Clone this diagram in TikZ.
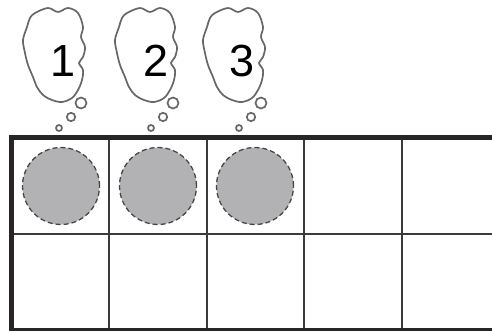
\documentclass[tikz,border=0pt]{standalone}
\usepackage{fontspec}
\setmainfont{Liberation Sans}
\usepackage{tikz}
\usetikzlibrary{positioning}
\definecolor{ink}{RGB}{40,36,40}
\definecolor{counter}{RGB}{178,178,181}
\tikzset{framethick/.style={draw=ink, line width=5pt},
  framethin/.style={draw=ink!90, line width=1.8pt},
  dot/.style={circle, fill=counter, draw=ink!85, dash pattern=on 5pt off 3pt, line width=1.3pt, minimum size=77pt, inner sep=0pt},
  num/.style={font=\fontsize{45}{45}\selectfont, inner sep=0pt},
  cloudline/.style={draw=ink!70, line width=1.7pt},
  thought/.pic={
    \draw[cloudline] plot[smooth cycle, tension=0.55] coordinates {(-19,-42) (-6,-47) (4,-43) (14,-47) (24,-42) (29,-28) (27,-18) (31,-8) (29,2) (25,8) (29,15) (28,25) (24,35) (18,43) (8,47) (-2,45) (-11,40) (-17,32) (-21,22) (-26,10) (-29,-2) (-31,-15) (-27,-28) (-24,-37)};
    \draw[cloudline] (27,48) circle (5.5pt);
    \draw[cloudline] (17,62) circle (4.2pt);
    \draw[cloudline] (5,73) circle (3pt);
  }}
\begin{document}
\begin{tikzpicture}[x=1pt, y=-1pt]
    \useasboundingbox (0,0) rectangle (492,331);

    % ten frame
    \foreach \x in {109.1,206.7,304.3,401.9}
        \draw[framethin] (\x,138) -- (\x,330);
    \draw[framethin] (11.5,234) -- (495,234);
    \draw[framethick] (495,138) -- (9,138);
    \draw[framethick] (11.5,136) -- (11.5,333);
    \draw[framethick] (9,330) -- (495,330);

    % counters
    \node[dot] at (61,186) (d1){};
    \node[dot] at ([xshift = 97pt]d1) (d2){};
    \node[dot] at ([xshift = 97pt]d2) (d3){};

    % thought clouds
    \node[num] at (63,61) (n1){1};
    \node[num] at (156,61) (n2){2};
    \node[num] at (242,61) (n3){3};
    \pic at ([xshift = -9pt, yshift = 6pt]n1.center) {thought};
    \pic at ([xshift = -10pt, yshift = 6pt]n2.center) {thought};
    \pic at ([xshift = -8pt, yshift = 6pt]n3.center) {thought};
\end{tikzpicture}
\end{document}
